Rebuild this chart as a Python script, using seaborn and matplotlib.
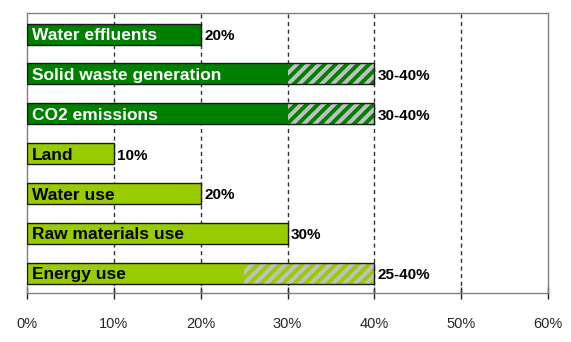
import matplotlib
matplotlib.use("Agg")
import matplotlib.pyplot as plt
import seaborn as sns
import pandas as pd

categories = ["Water effluents", "Solid waste generation", "CO2 emissions",
              "Land", "Water use", "Raw materials use", "Energy use"]
low_values = [20, 30, 30, 10, 20, 30, 25]
high_values = [20, 40, 40, 10, 20, 30, 40]
value_labels = ["20%", "30-40%", "30-40%", "10%", "20%", "30%", "25-40%"]
groups = ["dark", "dark", "dark", "light", "light", "light", "light"]
xticks = [0, 10, 20, 30, 40, 50, 60]
xtick_labels = ["0%", "10%", "20%", "30%", "40%", "50%", "60%"]

DARK = "#008000"
LIGHT = "#99cc00"
GREY = "#c0c0c0"

sns.set_theme(style="white")
plt.rcParams["font.family"] = ["Liberation Sans", "DejaVu Sans"]
plt.rcParams["hatch.linewidth"] = 2.8

df = pd.DataFrame({"category": categories, "low": low_values,
                   "high": high_values, "group": groups})
bar_colors = {c: (DARK if g == "dark" else LIGHT) for c, g in zip(categories, groups)}

fig = plt.figure(figsize=(5.71, 3.42), dpi=100)
ax = fig.add_axes([27 / 571, 1 - 293 / 342, (548 - 27) / 571, (293 - 13) / 342])

H = 0.53
sns.barplot(data=df, x="low", y="category", hue="category", palette=bar_colors,
            orient="h", width=H, edgecolor="none", linewidth=0, legend=False,
            saturation=1, ax=ax, zorder=3)

for i, (lo, hi, g) in enumerate(zip(low_values, high_values, groups)):
    col = DARK if g == "dark" else LIGHT
    if hi > lo:
        ax.barh(i, hi - lo, left=lo, height=H, color=GREY, edgecolor=col,
                hatch="///", linewidth=0, zorder=3)
    ax.barh(i, hi, height=H, fill=False, edgecolor="#1a1a1a", linewidth=1.0, zorder=4)
    tcol = "white" if g == "dark" else "black"
    ax.text(0.6, i + 0.04, categories[i], va="center", ha="left", color=tcol,
            fontsize=12.5, fontweight="bold", zorder=5)
    ax.text(hi + 0.4, i + 0.05, value_labels[i], va="center", ha="left",
            color="black", fontsize=11, fontweight="bold", zorder=5)

ax.set_xlim(0, 60)
ax.set_ylim(6.5, -0.53)
for x in xticks[1:-1]:
    ax.axvline(x, color="#333333", linestyle=(0, (3, 2.5)), linewidth=1.0, zorder=1)

ax.set_xticks(xticks)
ax.set_xticklabels(xtick_labels, fontsize=10.5)
ax.set_yticks([])
ax.set_xlabel("")
ax.set_ylabel("")
ax.tick_params(axis="x", direction="inout", length=8, width=1, color="#222222",
               pad=13, bottom=True)
for s in ax.spines.values():
    s.set_visible(True)
    s.set_color("#808080")
    s.set_linewidth(1.0)

fig.savefig("out.png", dpi=100)
